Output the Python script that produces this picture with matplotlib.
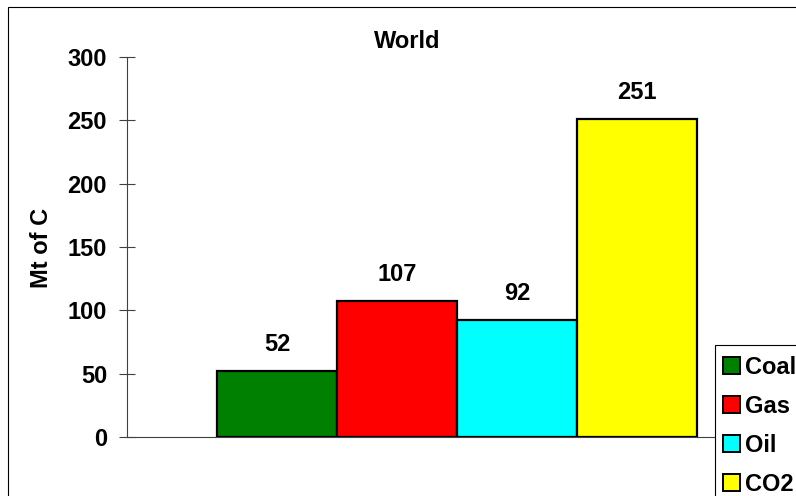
import matplotlib
matplotlib.use("Agg")
import matplotlib.pyplot as plt
from matplotlib.patches import Rectangle

# Data
fuels = ["Coal", "Gas", "Oil", "CO2"]
values = [52, 107, 92, 251]
colors = ["#008000", "#FF0000", "#00FFFF", "#FFFF00"]
yticks = [0, 50, 100, 150, 200, 250, 300]
title = "World"
ylabel = "Mt of C"

W, H, DPI = 796, 496, 100
FS = 17

plt.rcParams["font.family"] = ["Liberation Sans", "DejaVu Sans"]
plt.rcParams["font.weight"] = "bold"

fig = plt.figure(figsize=(W / DPI, H / DPI), dpi=DPI)
fig.patch.set_facecolor("white")

# plot area in pixels: left 127, right 787, top 57, bottom 437
ax = fig.add_axes([127 / W, (H - 437) / H, 660 / W, 380 / H])

xs = list(range(len(values)))
bars = ax.bar(xs, values, width=1.0, color=colors, edgecolor="black",
              linewidth=1.6, zorder=3)

for x, v in zip(xs, values):
    ax.annotate(str(v), xy=(x, v), xytext=(0, 14.4), textcoords="offset points",
                ha="center", va="baseline", fontsize=FS, fontweight="bold")

ax.set_xlim(-1.25, 4.25)
ax.set_ylim(0, 300)
ax.set_yticks(yticks)
ax.set_yticklabels([str(t) for t in yticks], fontsize=FS, fontweight="bold")
ax.set_xticks([])
ax.tick_params(axis="y", direction="inout", length=11.5, width=0.8,
               color="#404040", pad=8.6)
for s in ["top", "right"]:
    ax.spines[s].set_visible(False)
for s in ["left", "bottom"]:
    ax.spines[s].set_color("#404040")
    ax.spines[s].set_linewidth(0.8)
ax.set_facecolor("white")

fig.text(407 / W, 1 - 48 / H, title, ha="center", va="baseline",
         fontsize=FS, fontweight="bold")
fig.text(41 / W, 1 - 248 / H, ylabel, rotation=90, ha="center", va="center",
         fontsize=FS, fontweight="bold")

# chart border
fig.add_artist(Rectangle((8 / W, -0.1), 1.2, 1 - 7 / H + 0.1,
                         transform=fig.transFigure, fill=False,
                         edgecolor="black", linewidth=0.8))

# legend box (runs past the right and bottom edges of the chart area)
def px(x, y):
    return x / W, 1 - y / H

lx, ly = px(715, 345)
fig.add_artist(Rectangle((lx, -0.1), 0.3, ly + 0.1, transform=fig.transFigure,
                         facecolor="white", edgecolor="black", linewidth=0.8,
                         zorder=5))
row_y = [365, 404, 443, 482]
for bar, name, yy in zip(bars, fuels, row_y):
    sx, sy = px(723, yy + 8.5)
    fig.add_artist(Rectangle((sx, sy), 17 / W, 17 / H,
                             transform=fig.transFigure,
                             facecolor=bar.get_facecolor(), edgecolor="black",
                             linewidth=1.4, zorder=6))
    tx, ty = px(745, yy)
    fig.text(tx, ty, name, ha="left", va="center_baseline", fontsize=FS,
             fontweight="bold", zorder=7)

fig.savefig("out.png", dpi=DPI)
